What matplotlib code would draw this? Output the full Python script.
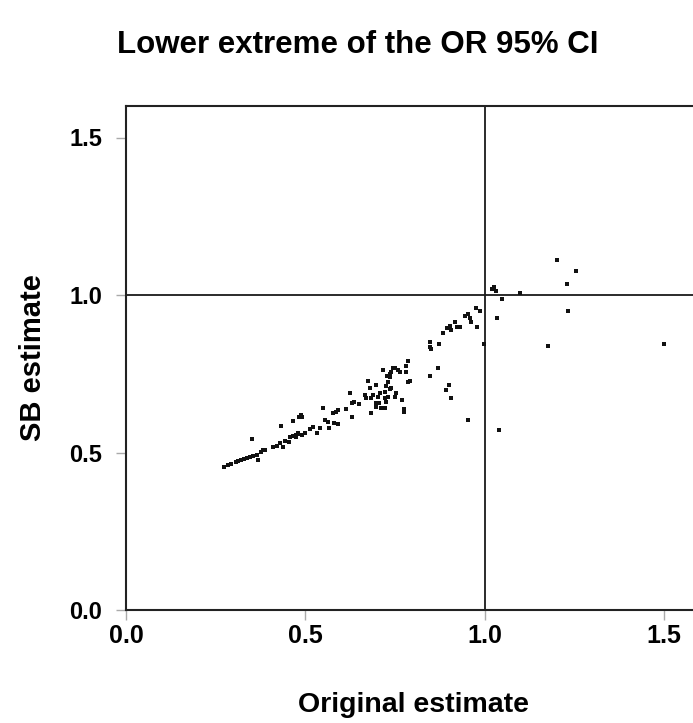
import matplotlib
matplotlib.use("Agg")
import matplotlib.pyplot as plt

# Data (original estimate, SB estimate)
orig_est = [
    0.273, 0.285, 0.294, 0.306, 0.311, 0.320, 0.329, 0.338, 0.345, 0.355, 0.364, 0.369,
    0.375, 0.382, 0.387, 0.352, 0.410, 0.420, 0.429, 0.438, 0.443, 0.431, 0.454, 0.466,
    0.483, 0.487, 0.491, 0.457, 0.465, 0.474, 0.475, 0.479, 0.480, 0.490, 0.499, 0.513,
    0.521, 0.533, 0.540, 0.550, 0.554, 0.564, 0.566, 0.577, 0.585, 0.591, 0.579, 0.591,
    0.613, 0.624, 0.629, 0.629, 0.635, 0.650, 0.666, 0.669, 0.675, 0.680, 0.684, 0.682,
    0.696, 0.698, 0.717, 0.728, 0.731, 0.724, 0.735, 0.740, 0.749, 0.759, 0.765, 0.780,
    0.785, 0.780, 0.786, 0.791, 0.689, 0.703, 0.721, 0.731, 0.726, 0.740, 0.754, 0.749,
    0.768, 0.774, 0.774, 0.698, 0.708, 0.721, 0.735, 0.752, 0.706, 0.712, 0.721, 0.745,
    0.737, 0.847, 0.847, 0.849, 0.873, 0.884, 0.895, 0.903, 0.907, 0.916, 0.923, 0.930,
    0.944, 0.953, 0.960, 0.963, 0.975, 0.988, 0.979, 0.997, 0.847, 0.870, 0.901, 0.891,
    0.905, 0.952, 1.034, 1.019, 1.025, 1.031, 1.201, 1.253, 1.228, 1.097, 1.047, 1.232,
    1.176, 1.499, 1.040,
]
sb_est = [
    0.455, 0.460, 0.463, 0.470, 0.473, 0.475, 0.478, 0.483, 0.485, 0.489, 0.493, 0.476,
    0.502, 0.508, 0.508, 0.543, 0.518, 0.522, 0.529, 0.518, 0.537, 0.584, 0.534, 0.601,
    0.612, 0.619, 0.614, 0.548, 0.552, 0.549, 0.556, 0.559, 0.561, 0.556, 0.562, 0.574,
    0.581, 0.561, 0.578, 0.642, 0.603, 0.598, 0.577, 0.624, 0.630, 0.635, 0.595, 0.590,
    0.638, 0.690, 0.612, 0.658, 0.661, 0.654, 0.683, 0.672, 0.727, 0.704, 0.626, 0.672,
    0.714, 0.656, 0.762, 0.743, 0.725, 0.711, 0.749, 0.757, 0.767, 0.762, 0.757, 0.775,
    0.791, 0.757, 0.725, 0.728, 0.683, 0.677, 0.672, 0.677, 0.661, 0.704, 0.690, 0.677,
    0.667, 0.637, 0.630, 0.645, 0.688, 0.693, 0.701, 0.690, 0.656, 0.640, 0.640, 0.767,
    0.741, 0.852, 0.836, 0.828, 0.844, 0.880, 0.896, 0.902, 0.889, 0.915, 0.897, 0.897,
    0.934, 0.939, 0.926, 0.915, 0.958, 0.950, 0.897, 0.844, 0.743, 0.767, 0.714, 0.698,
    0.674, 0.603, 0.926, 1.018, 1.024, 1.014, 1.111, 1.075, 1.034, 1.005, 0.986, 0.950,
    0.838, 0.844, 0.571,
]
x_ticks = [0.0, 0.5, 1.0, 1.5]
y_ticks = [0.0, 0.5, 1.0, 1.5]
title = "Lower extreme of the OR 95% CI"
x_label = "Original estimate"
y_label = "SB estimate"

plt.rcParams['font.family'] = ['Liberation Sans', 'DejaVu Sans']
plt.rcParams['font.weight'] = 'bold'

fig = plt.figure(figsize=(6.93, 7.23), dpi=100)
W, H = 693, 723
ax_l, ax_b, ax_r, ax_t = 126, 610, 700, 106
ax = fig.add_axes([ax_l / W, 1 - ax_b / H, (ax_r - ax_l) / W, (ax_b - ax_t) / H])

ax.scatter(orig_est, sb_est, s=12, marker='s', color='#111111', linewidths=0, zorder=3)
ax.axhline(1.0, color='#1a1a1a', lw=1.3, zorder=2)
ax.axvline(1.0, color='#1a1a1a', lw=1.3, zorder=2)

ax.set_xlim(0, 1.6)
ax.set_ylim(0, 1.6)
ax.set_xticks(x_ticks)
ax.set_yticks(y_ticks)
ax.set_xticklabels([f"{v:.1f}" for v in x_ticks], fontsize=18, fontweight='bold')
ax.set_yticklabels([f"{v:.1f}" for v in y_ticks], fontsize=17, fontweight='bold')
ax.tick_params(direction='out', length=7, width=1, color='#aaaaaa')
ax.tick_params(axis='x', pad=3)
ax.tick_params(axis='y', pad=10)

for side in ['left', 'bottom', 'top']:
    ax.spines[side].set_linewidth(1.5)
    ax.spines[side].set_color('#222222')
ax.spines['right'].set_visible(False)

ax.set_xlabel(x_label, fontsize=20.5, fontweight='bold')
ax.xaxis.label.set_va('center')
ax.xaxis.set_label_coords(0.5, (ax_b - 705) / (ax_b - ax_t))
ax.set_ylabel(y_label, fontsize=21, fontweight='bold', labelpad=16)
fig.text(358 / W, 1 - 45 / H, title, fontsize=22.5, fontweight='bold', ha='center', va='center')

fig.savefig("out.png", dpi=100)
